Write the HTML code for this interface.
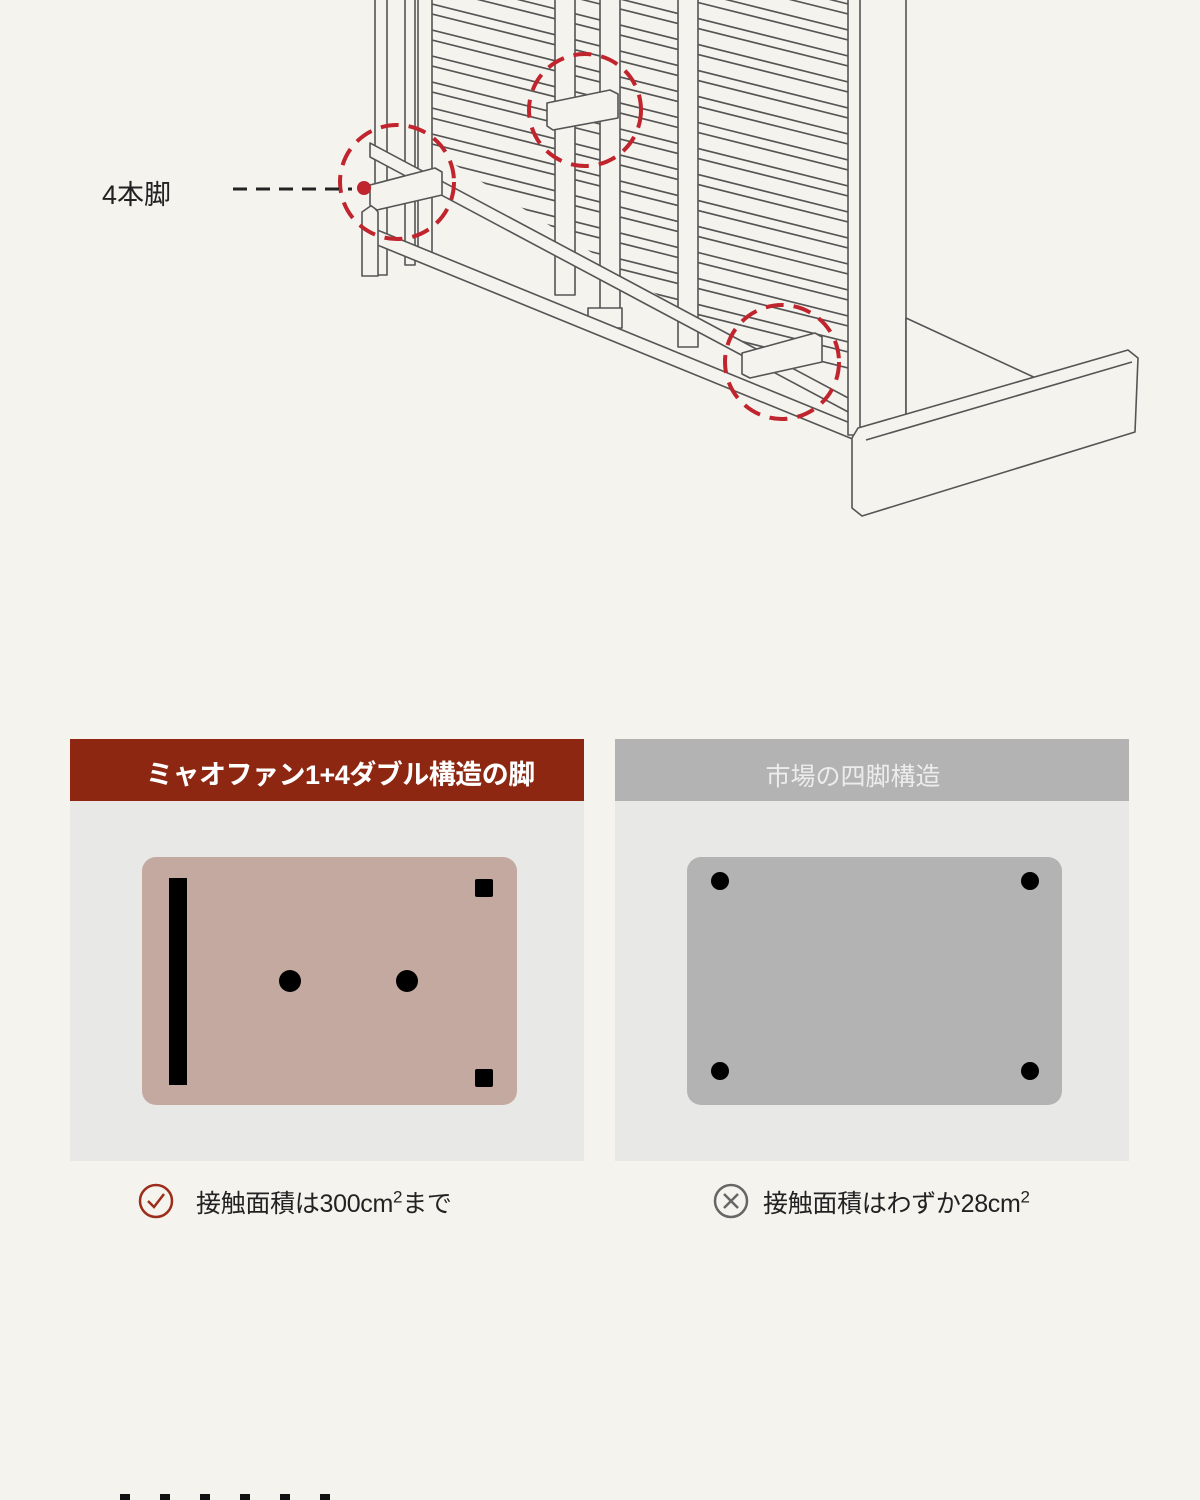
<!DOCTYPE html>
<html><head><meta charset="utf-8"><style>
html,body{margin:0;padding:0}
body{width:1200px;height:1500px;background:#f5f3ee;position:relative;overflow:hidden;font-family:"Liberation Sans","Noto Sans CJK JP",sans-serif}
.abs{position:absolute}
</style></head><body>
<svg class="abs" style="left:0;top:0" width="1200" height="560" viewBox="0 0 1200 560">
<defs><clipPath id="c"><polygon points="432,0 852,0 852,420 432,150"/></clipPath></defs>
<g fill="none" stroke="#555" stroke-width="1.6" stroke-linejoin="round">
<g clip-path="url(#c)">
<line x1="432" y1="-100" x2="852" y2="5"/><line x1="432" y1="-90" x2="852" y2="15"/>
<line x1="432" y1="-74" x2="852" y2="31"/><line x1="432" y1="-64" x2="852" y2="41"/>
<line x1="432" y1="-48" x2="852" y2="57"/><line x1="432" y1="-38" x2="852" y2="67"/>
<line x1="432" y1="-22" x2="852" y2="83"/><line x1="432" y1="-12" x2="852" y2="93"/>
<line x1="432" y1="4" x2="852" y2="109"/><line x1="432" y1="14" x2="852" y2="119"/>
<line x1="432" y1="30" x2="852" y2="135"/><line x1="432" y1="40" x2="852" y2="145"/>
<line x1="432" y1="56" x2="852" y2="161"/><line x1="432" y1="66" x2="852" y2="171"/>
<line x1="432" y1="82" x2="852" y2="187"/><line x1="432" y1="92" x2="852" y2="197"/>
<line x1="432" y1="108" x2="852" y2="213"/><line x1="432" y1="118" x2="852" y2="223"/>
<line x1="432" y1="134" x2="852" y2="239"/><line x1="432" y1="144" x2="852" y2="249"/>
<line x1="432" y1="160" x2="852" y2="265"/><line x1="432" y1="170" x2="852" y2="275"/>
<line x1="432" y1="186" x2="852" y2="291"/><line x1="432" y1="196" x2="852" y2="301"/>
<line x1="432" y1="212" x2="852" y2="317"/><line x1="432" y1="222" x2="852" y2="327"/>
<line x1="432" y1="238" x2="852" y2="343"/><line x1="432" y1="248" x2="852" y2="353"/>
<line x1="432" y1="264" x2="852" y2="369"/>
</g>
<rect x="375" y="-5" width="12" height="280" fill="#f5f3ee"/>
<rect x="405" y="-5" width="10" height="270" fill="#f5f3ee"/>
<rect x="418" y="-5" width="14" height="265" fill="#f5f3ee"/>
<rect x="555" y="-5" width="20" height="300" fill="#f5f3ee"/>
<rect x="600" y="-5" width="20" height="320" fill="#f5f3ee"/>
<rect x="678" y="-5" width="20" height="352" fill="#f5f3ee"/>
<rect x="588" y="308" width="34" height="20" fill="#f5f3ee"/>
<polygon points="370,143 852,400 852,414 370,157" fill="#f5f3ee"/>
<polygon points="365,225 855,425 855,440 365,240" fill="#f5f3ee"/>
<polygon points="362,212 372,205 378,212 378,276 362,276" fill="#f5f3ee"/>
<rect x="848" y="-5" width="58" height="440" fill="#f5f3ee"/>
<line x1="860" y1="-5" x2="860" y2="430"/>
<polygon points="906,318 1040,380 906,420" fill="#f5f3ee"/>
<polygon points="858,428 1128,350 1138,358 1135,432 862,516 852,508 852,438" fill="#f5f3ee"/>
<line x1="866" y1="440" x2="1132" y2="362"/>
<polygon points="370,185 435,168 442,172 442,195 377,210 370,205" fill="#f5f3ee"/>
<polygon points="547,103 610,90 618,94 618,118 553,130 547,126" fill="#f5f3ee"/>
<polygon points="742,353 815,333 822,337 822,362 750,378 742,374" fill="#f5f3ee"/>
</g>
<g fill="none" stroke="#c0242c" stroke-width="4" stroke-dasharray="18 10">
<circle cx="397" cy="182" r="57"/>
<circle cx="585" cy="110" r="56"/>
<circle cx="782" cy="362" r="57"/>
</g>
<circle cx="364" cy="188" r="7" fill="#c0242c"/>
<line x1="233" y1="189" x2="352" y2="189" stroke="#222" stroke-width="3" stroke-dasharray="14 9"/>
</svg>
<div class="abs" style="left:102px;top:173px;font-size:27px;color:#222">4本脚</div>

<div class="abs" style="left:70px;top:739px;width:514px;height:62px;background:#8e2711"></div>
<div class="abs" style="left:146px;top:753px;font-size:27px;font-weight:bold;color:#fff;white-space:nowrap;letter-spacing:-0.5px">ミャオファン1+4ダブル構造の脚</div>
<div class="abs" style="left:70px;top:801px;width:514px;height:360px;background:#e8e8e6"></div>
<div class="abs" style="left:142px;top:857px;width:375px;height:248px;border-radius:14px;background:#c4a9a0"></div>
<div class="abs" style="left:169px;top:878px;width:18px;height:207px;background:#000"></div>
<div class="abs" style="left:475px;top:879px;width:18px;height:18px;background:#000;border-radius:2px"></div>
<div class="abs" style="left:475px;top:1069px;width:18px;height:18px;background:#000;border-radius:2px"></div>
<div class="abs" style="left:279px;top:970px;width:22px;height:22px;background:#000;border-radius:50%"></div>
<div class="abs" style="left:396px;top:970px;width:22px;height:22px;background:#000;border-radius:50%"></div>

<div class="abs" style="left:615px;top:739px;width:514px;height:62px;background:#b3b3b3"></div>
<div class="abs" style="left:615px;top:757px;width:476px;text-align:center;font-size:25px;color:#ececec">市場の四脚構造</div>
<div class="abs" style="left:615px;top:801px;width:514px;height:360px;background:#e8e8e6"></div>
<div class="abs" style="left:687px;top:857px;width:375px;height:248px;border-radius:14px;background:#b3b3b3"></div>
<div class="abs" style="left:711px;top:872px;width:18px;height:18px;background:#000;border-radius:50%"></div>
<div class="abs" style="left:1021px;top:872px;width:18px;height:18px;background:#000;border-radius:50%"></div>
<div class="abs" style="left:711px;top:1062px;width:18px;height:18px;background:#000;border-radius:50%"></div>
<div class="abs" style="left:1021px;top:1062px;width:18px;height:18px;background:#000;border-radius:50%"></div>

<svg class="abs" style="left:138px;top:1183px" width="36" height="36"><circle cx="18" cy="18" r="16" fill="none" stroke="#9b2d1a" stroke-width="2.5"/><polyline points="10,18 16,24 26,11" fill="none" stroke="#9b2d1a" stroke-width="2.5"/></svg>
<div class="abs" style="left:196px;top:1184px;font-size:25px;color:#222;white-space:nowrap;letter-spacing:-0.3px">接触面積は300cm<sup style="font-size:17px">2</sup>まで</div>
<svg class="abs" style="left:713px;top:1183px" width="36" height="36"><circle cx="18" cy="18" r="16" fill="none" stroke="#666" stroke-width="2.5"/><line x1="11" y1="11" x2="25" y2="25" stroke="#666" stroke-width="2.5"/><line x1="25" y1="11" x2="11" y2="25" stroke="#666" stroke-width="2.5"/></svg>
<div class="abs" style="left:763px;top:1184px;font-size:25px;color:#222;white-space:nowrap;letter-spacing:-0.3px">接触面積はわずか28cm<sup style="font-size:17px">2</sup></div>

<div class="abs" style="left:120px;top:1494px;width:240px;height:6px;background:repeating-linear-gradient(90deg,#111 0 10px,transparent 10px 40px)"></div>
</body></html>
